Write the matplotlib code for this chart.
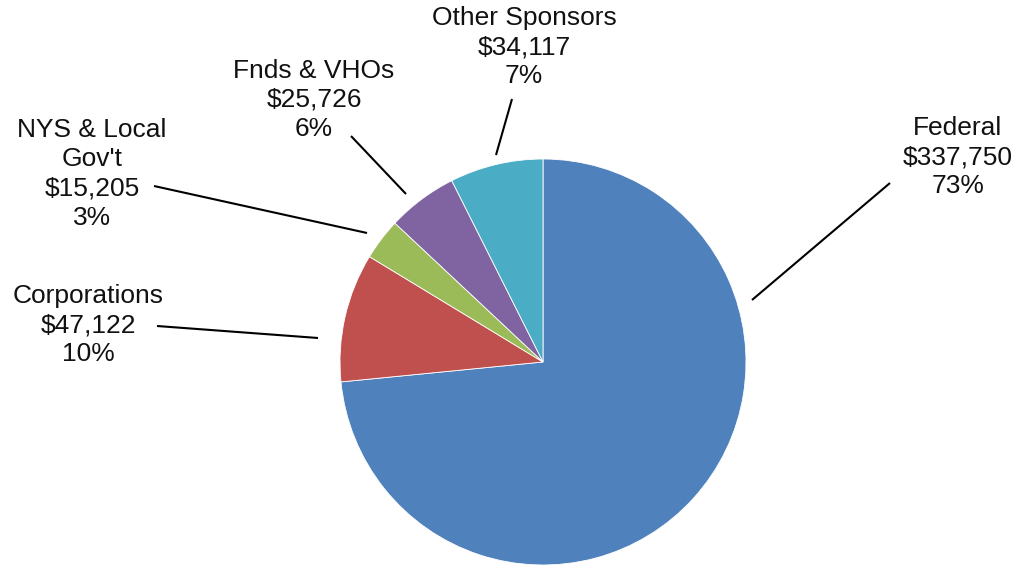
import matplotlib
matplotlib.use("Agg")
import matplotlib.pyplot as plt

categories = ["Federal", "Corporations", "NYS & Local\nGov't", "Fnds & VHOs", "Other Sponsors"]
values = [337750, 47122, 15205, 25726, 34117]
colors = ["#4F81BD", "#C0504D", "#9BBB59", "#8064A2", "#4BACC6"]

W, H = 1020, 567
plt.rcParams['font.family'] = ['Liberation Sans', 'DejaVu Sans']

fig = plt.figure(figsize=(W / 100, H / 100), dpi=100)
ax = fig.add_axes([0, 0, 1, 1])

cx, cy, r = 543, H - 362, 203
ax.pie(values, colors=colors, startangle=90, counterclock=False,
       center=(cx, cy), radius=r, frame=True,
       wedgeprops=dict(edgecolor='white', linewidth=0.6))
ax.set_xlim(0, W)
ax.set_ylim(0, H)
ax.set_aspect('equal')
ax.axis('off')

total = sum(values)
# layout: label centers (pixel coords from top) and leader lines
label_pos = [(958, 157), (88, 325), (92, 174), (314, 100), (524, 47)]
leaders = [((890, 183), (752, 300)),
           ((157, 326), (318, 338)),
           ((154, 186), (367, 233)),
           ((351, 136), (406, 194)),
           ((512, 99), (496, 155))]

for cat, v, (lx, ly), (p0, p1) in zip(categories, values, label_pos, leaders):
    pct = round(100 * v / total)
    txt = f"{cat}\n${v:,}\n{pct}%"
    ax.text(lx, H - ly, txt, ha='center', va='center', fontsize=19,
            linespacing=1.27, color='#111111')
    ax.plot([p0[0], p1[0]], [H - p0[1], H - p1[1]], color='black', lw=1.5,
            solid_capstyle='butt')

fig.savefig("out.png", dpi=100, facecolor='white')
